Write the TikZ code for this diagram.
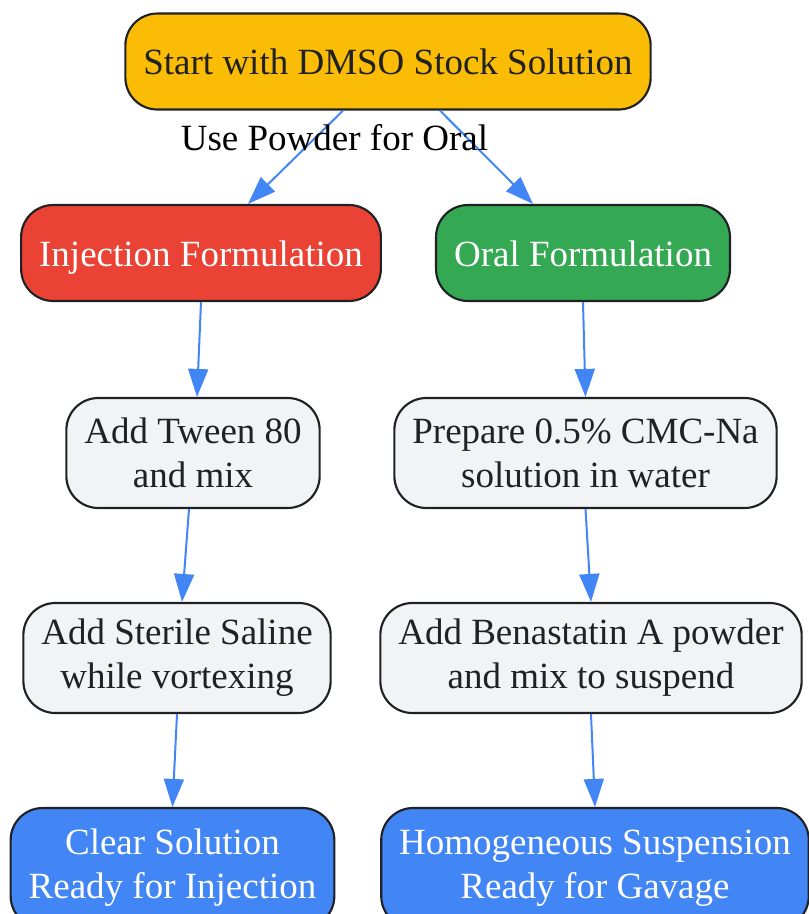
\documentclass[tikz,border=0pt]{standalone}
\usepackage{fontspec}
\setmainfont{Liberation Serif}
\usetikzlibrary{arrows.meta}
\definecolor{ink}{HTML}{202124}
\definecolor{startcol}{HTML}{FBBC05}
\definecolor{injcol}{HTML}{EA4335}
\definecolor{oralcol}{HTML}{34A853}
\definecolor{donecol}{HTML}{4285F4}
\definecolor{stepcol}{HTML}{F1F3F4}
\tikzset{
  box/.style={draw=ink, line width=1.6pt, rounded corners=24pt, align=center,
    inner xsep=13.5pt, inner ysep=8.5pt, minimum height=82.5pt,
    font=\fontsize{27.75}{33}\selectfont, text=ink},
  oneline/.style={minimum height=72pt, text height=20pt, text depth=0.5pt},
  startbox/.style={box, oneline, fill=startcol},
  injbox/.style={box, oneline, fill=injcol, text=white},
  oralbox/.style={box, oneline, fill=oralcol, text=white},
  stepbox/.style={box, fill=stepcol},
  donebox/.style={box, fill=donecol, text=white, minimum height=90pt},
  flow/.style={draw=donecol, line width=1.5pt, -{Triangle[length=21pt, width=15pt]}},
  edgelabel/.style={font=\fontsize{27.75}{33}\selectfont, text=black, inner sep=0pt}
}
\begin{document}
\begin{tikzpicture}[x=0.75pt, y=-0.75pt]
  \useasboundingbox (0,0) rectangle (808,914);
  % nodes
  \node[startbox] (start) at (388,61.5) {Start with DMSO Stock Solution};
  \node[injbox] (inj) at (201,253) {Injection Formulation};
  \node[oralbox] (oral) at (583,253) {Oral Formulation};
  \node[stepbox] (tween) at (193,453) {Add Tween 80\\and mix};
  \node[stepbox] (prep) at (585.5,453) {Prepare 0.5\% CMC-Na\\solution in water};
  \node[stepbox] (saline) at (177,658) {Add Sterile Saline\\while vortexing};
  \node[stepbox] (bena) at (591,658) {Add Benastatin A powder\\and mix to suspend};
  \node[donebox] (clear) at (172.5,868) {Clear Solution\\Ready for Injection};
  \node[donebox] (homog) at (595,868) {Homogeneous Suspension\\Ready for Gavage};
  % connectors
  \draw[flow] ([shift={(-45,0)}]start.south) -- ([shift={(47,0)}]inj.north);
  \draw[flow] ([shift={(52,0)}]start.south) --
    node[edgelabel, shift={(-152,-20)}] (lbl) {Use Powder for Oral}
    ([shift={(-50,0)}]oral.north);
  \draw[flow] (inj.south) -- ([shift={(4,0)}]tween.north);
  \draw[flow] (oral.south) -- (prep.north);
  \draw[flow] ([shift={(-4,0)}]tween.south) -- ([shift={(5,0)}]saline.north);
  \draw[flow] (prep.south) -- (bena.north);
  \draw[flow] (saline.south) -- (clear.north);
  \draw[flow] (bena.south) -- (homog.north);
\end{tikzpicture}
\end{document}
